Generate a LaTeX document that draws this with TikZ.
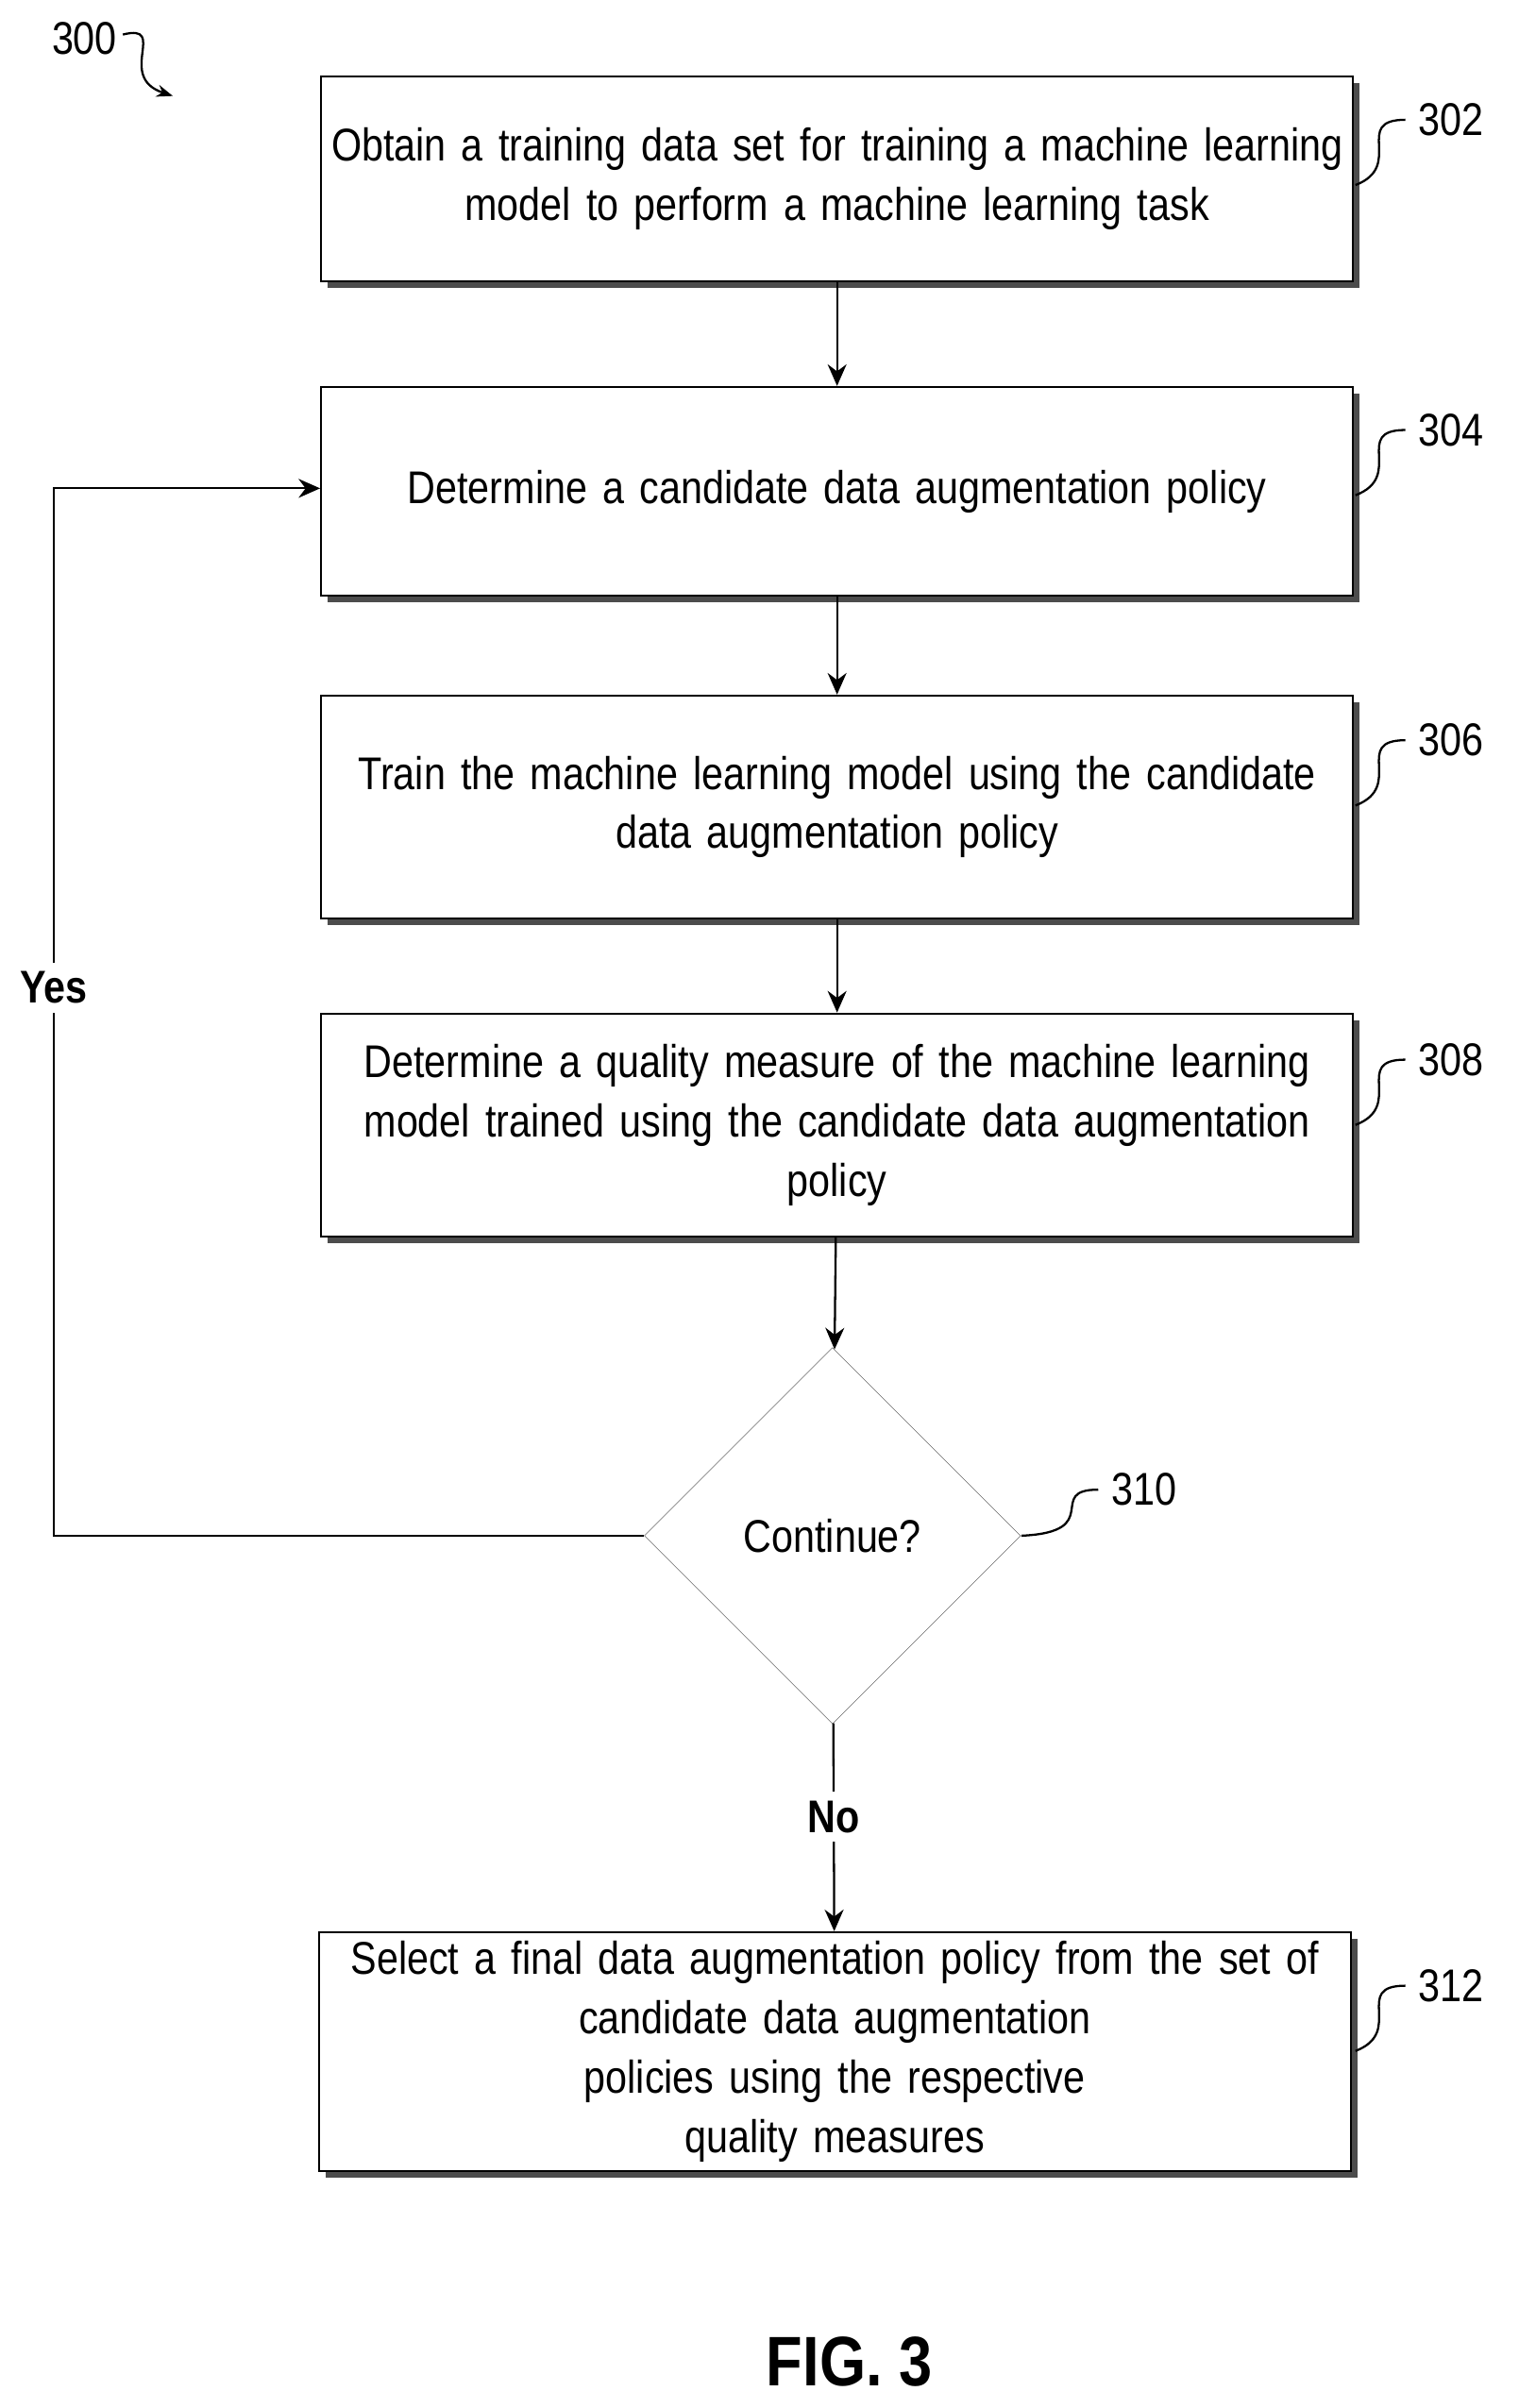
\documentclass[tikz,border=0pt]{standalone}
\usepackage{fontspec}
\setmainfont[FakeStretch=0.85]{Liberation Sans}
\usetikzlibrary{arrows.meta,shapes.geometric,positioning}
\tikzset{
  flowbox/.style={draw, thick, minimum width=13.4cm, text width=13.2cm, align=center,
    font=\fontsize{17}{22}\selectfont,
    preaction={fill=black!70, transform canvas={xshift=2.5pt, yshift=-2.5pt}}, fill=white},
  ref/.style={font=\fontsize{17}{20}\selectfont},
  arr/.style={thick, -{Stealth[length=8pt,width=7pt]}}
}
\begin{document}
\begin{tikzpicture}
\useasboundingbox (0,0) rectangle (20,-31.36);

%% 300
\node[ref] (n300) at (1.1,-0.5) {300};
\draw[thick,-{Stealth[length=6pt]}] (1.6,-0.45) .. controls (2.2,-0.3) and (1.5,-1.0) .. (2.25,-1.25);

%%%%%
%% steps
%%%%%
\node[flowbox, minimum height=2.66cm] (s302) at (10.9,-2.33) {Obtain a training data set for training a machine learning\\ model to perform a machine learning task};
\node[flowbox, minimum height=2.72cm] (s304) at (10.9,-6.4) {Determine a candidate data augmentation policy};
\node[flowbox, minimum height=2.9cm] (s306) at (10.9,-10.51) {Train the machine learning model using the candidate\\ data augmentation policy};
\node[flowbox, minimum height=2.9cm] (s308) at (10.9,-14.65) {Determine a quality measure of the machine learning\\ model trained using the candidate data augmentation\\ policy};
\node[draw, very thin, black!60, diamond, minimum width=4.9cm, minimum height=4.9cm, font=\fontsize{17}{22}\selectfont, text=black] (s310) at (10.84,-20) {Continue?};
\node[flowbox, minimum height=2.96cm] (s312) at (10.87,-26.72) {Select a final data augmentation policy from the set of\\ candidate data augmentation policies using the respective\\ quality measures};

\draw[arr] (s302) -- (s304);
\draw[arr] (s304) -- (s306);
\draw[arr] (s306) -- (s308);
\draw[arr] (s308) -- (s310);
\draw[arr] (s310) -- node[fill=white, font=\bfseries\fontsize{17}{20}\selectfont, pos=0.45] {No} (s312);

\coordinate (c1) at (0.7,-20);
\coordinate (c2) at (0.7,-6.36);
\draw[arr] (s310.west) -- (c1) -- (c2) -- (s304.west |- c2);
\node[fill=white, font=\bfseries\fontsize{17}{20}\selectfont] (yes) at (0.7,-12.86) {Yes};

%% reference numerals
\foreach \n/\y in {302/-1.56, 304/-5.6, 306/-9.64, 308/-13.8, 312/-25.86}{
  \node[ref] (r\n) at (18.9,\y) {\n};
  \draw[thick] (18.3,\y) .. controls (17.6,\y) and (18.3,\y-0.6) .. (17.65,\y-0.85);
}
\node[ref] (r310) at (14.9,-19.4) {310};
\draw[thick] (14.3,-19.4) .. controls (13.6,-19.4) and (14.4,-19.95) .. (13.3,-20);

\node[font=\bfseries\fontsize{26}{30}\selectfont] (fig) at (11.06,-30.76) {FIG. 3};
\end{tikzpicture}
\end{document}
